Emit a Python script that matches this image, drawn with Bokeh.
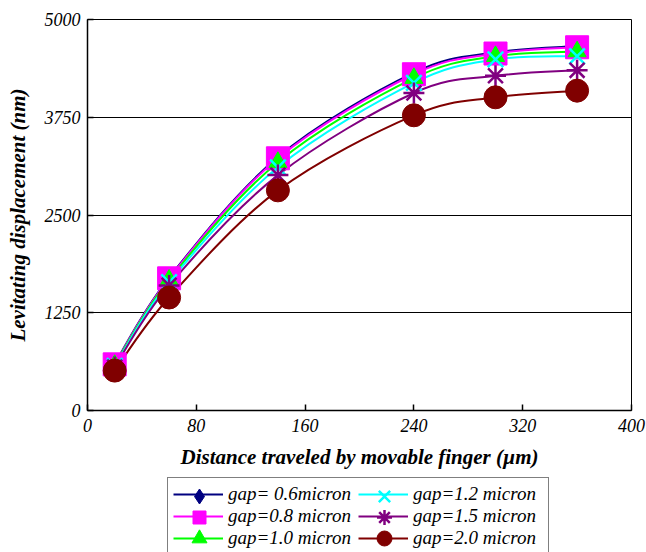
from bokeh.plotting import figure
from bokeh.layouts import column
from bokeh.models import (ColumnDataSource, Legend, LegendItem, FixedTicker,
                          Range1d)
from bokeh.embed import file_html
from bokeh.resources import INLINE

# ---- data -------------------------------------------------------------
distance = [20, 60, 140, 240, 300, 360]
gap_06 = [600, 1700, 3240, 4320, 4580, 4660]
gap_08 = [590, 1690, 3225, 4300, 4565, 4645]
gap_10 = [580, 1670, 3175, 4250, 4530, 4590]
gap_12 = [570, 1640, 3110, 4190, 4490, 4530]
gap_15 = [555, 1600, 3010, 4060, 4280, 4350]
gap_20 = [510, 1445, 2815, 3775, 4005, 4090]

labels = ["gap= 0.6micron", "gap=0.8 micron", "gap=1.0 micron",
          "gap=1.2 micron", "gap=1.5 micron", "gap=2.0 micron"]
x_ticks = [0, 80, 160, 240, 320, 400]
y_ticks = [0, 1250, 2500, 3750, 5000]

series = [gap_06, gap_08, gap_10, gap_12, gap_15, gap_20]
colors = ["#000080", "#FF00FF", "#00FF00", "#00FFFF", "#800080", "#800000"]
markers = ["diamond", "square", "triangle", "x", "asterisk", "circle"]
sizes = [16, 23, 18, 22, 21, 23]
legend_sizes = [15, 13, 15, 16, 15, 15]

FONT = "Liberation Serif"

p = figure(frame_width=544, frame_height=391, output_backend="svg",
           toolbar_location=None, x_range=Range1d(0, 400),
           y_range=Range1d(0, 5000), min_border_left=87, min_border_top=19,
           min_border_right=15, min_border_bottom=64)
p.background_fill_color = "white"
p.border_fill_color = "white"
p.outline_line_color = "black"
p.outline_line_width = 1

p.xgrid.visible = False
p.ygrid.ticker = FixedTicker(ticks=y_ticks)
p.ygrid.grid_line_color = "black"
p.ygrid.grid_line_width = 1

p.xaxis.ticker = FixedTicker(ticks=x_ticks)
p.yaxis.ticker = FixedTicker(ticks=y_ticks)
for ax in (p.xaxis[0], p.yaxis[0]):
    ax.axis_line_color = "black"
    ax.axis_line_width = 1.5
    ax.major_tick_in = 6
    ax.major_tick_out = 0
    ax.major_tick_line_color = "black"
    ax.major_tick_line_width = 1.5
    ax.minor_tick_line_color = None
    ax.major_label_text_font = FONT
    ax.major_label_text_font_style = "italic"
    ax.major_label_text_font_size = "18px"
    ax.major_label_text_color = "black"
    ax.axis_label_text_font = FONT
    ax.axis_label_text_font_style = "bold italic"
    ax.axis_label_text_font_size = "21px"
    ax.axis_label_text_color = "black"

p.xaxis.axis_label = "Distance traveled by movable finger (\u00b5m)"
p.yaxis.axis_label = "Levitating displacement (nm)"
p.xaxis.major_label_standoff = 8
p.xaxis.axis_label_standoff = 10
p.yaxis.major_label_standoff = 7
p.yaxis.axis_label_standoff = 12


# smoothed lines (Catmull-Rom control points, drawn with Bokeh's bezier glyph)
def bezier_source(xs, ys):
    n = len(xs)
    d = dict(x0=[], y0=[], x1=[], y1=[], cx0=[], cy0=[], cx1=[], cy1=[])
    for i in range(n - 1):
        a = max(i - 1, 0)
        b = min(i + 2, n - 1)
        d["x0"].append(xs[i]); d["y0"].append(ys[i])
        d["x1"].append(xs[i + 1]); d["y1"].append(ys[i + 1])
        d["cx0"].append(xs[i] + (xs[i + 1] - xs[a]) / 6.0)
        d["cy0"].append(ys[i] + (ys[i + 1] - ys[a]) / 6.0)
        d["cx1"].append(xs[i + 1] - (xs[b] - xs[i]) / 6.0)
        d["cy1"].append(ys[i + 1] - (ys[b] - ys[i]) / 6.0)
    return ColumnDataSource(d)


for ys, c in zip(series, colors):
    p.bezier(x0="x0", y0="y0", x1="x1", y1="y1", cx0="cx0", cy0="cy0",
             cx1="cx1", cy1="cy1", source=bezier_source(distance, ys),
             line_color=c, line_width=2)

for ys, c, m, s in zip(series, colors, markers, sizes):
    lw = 2.5 if m in ("x", "asterisk") else 1
    p.scatter(distance, ys, marker=m, size=s, fill_color=c, line_color=c,
              line_width=lw)

# ---- legend strip under the chart ------------------------------------
# The strip's ranges are in pixels of its own frame (544 x 78); the series
# lines drawn here are legend proxies only and lie outside that view.
lg = figure(width=646, height=78, output_backend="svg", toolbar_location=None,
            x_axis_type=None, y_axis_type=None, x_range=Range1d(0, 544),
            y_range=Range1d(0, 78), min_border=0)
lg.outline_line_color = None
lg.background_fill_color = "white"
lg.border_fill_color = "white"

LEG_X, LEG_Y = 80, -3          # legend box offset inside the strip
PAD, GLYPH_W, STANDOFF, LABEL_W = 5, 50, 5, 130
ROW_Y = [56, 35, 14]           # centres of the three legend rows

items = []
for lab, ys, c in zip(labels, series, colors):
    r1 = lg.line(distance, ys, line_color=c, line_width=2)
    items.append(LegendItem(label=lab, renderers=[r1]))

legend = Legend(items=items, orientation="vertical", nrows=3,
                location=(LEG_X, LEG_Y), level="underlay")
legend.label_text_font = FONT
legend.label_text_font_style = "italic"
legend.label_text_font_size = "19px"
legend.label_text_color = "black"
legend.glyph_width = GLYPH_W
legend.glyph_height = 18
legend.label_height = 18
legend.label_width = LABEL_W
legend.label_standoff = STANDOFF
legend.spacing = 0
legend.padding = PAD
legend.margin = 0
legend.border_line_color = "black"
legend.border_line_width = 1.5
legend.background_fill_color = "white"
legend.background_fill_alpha = 0
lg.add_layout(legend, "center")

# full-size markers on the legend swatches
col_x = [LEG_X + PAD + GLYPH_W / 2 + 2,
         LEG_X + PAD + GLYPH_W / 2 + 2 + GLYPH_W + STANDOFF + LABEL_W]
for i, (c, m, s) in enumerate(zip(colors, markers, legend_sizes)):
    lw = 2.5 if m in ("x", "asterisk") else 1
    lg.scatter([col_x[i // 3]], [ROW_Y[i % 3]], marker=m, size=s,
               fill_color=c, line_color=c, line_width=lw)

layout = column(p, lg, spacing=0)
open("out.html", "w").write(file_html(layout, INLINE))
